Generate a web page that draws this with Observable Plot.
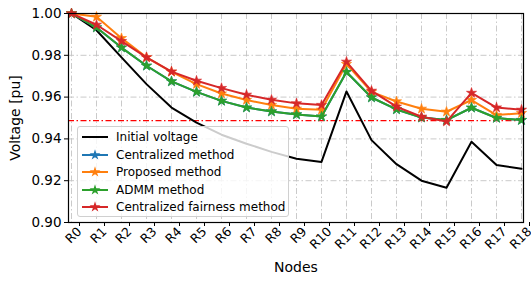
<!DOCTYPE html>
<html>
<head>
<meta charset="utf-8">
<script src="https://cdn.jsdelivr.net/npm/d3@7"></script>
<script src="https://cdn.jsdelivr.net/npm/@observablehq/plot@0.6"></script>
<style>
  html, body { margin: 0; padding: 0; background: #fff; }
  #wrap { position: relative; width: 531px; height: 281px; font-family: "DejaVu Sans", sans-serif; }
  #legend { position: absolute; left: 77px; top: 126px; width: 212px; height: 91px;
    background: rgba(255,255,255,0.8); border: 1px solid #d0d0d0; border-radius: 3px; box-sizing: border-box; }
  .row { position: absolute; left: 0; height: 18px; display: flex; align-items: center; }
  .row span { font-size: 12px; color: #000; white-space: nowrap; }
</style>
</head>
<body>
<div id="wrap"></div>
<script>
const nodes = ["R0","R1","R2","R3","R4","R5","R6","R7","R8","R9","R10","R11","R12","R13","R14","R15","R16","R17","R18"];
const initialVoltage = [1.0, 0.992, 0.979, 0.9662, 0.955, 0.9478, 0.942, 0.9377, 0.9338, 0.9305, 0.929, 0.9627, 0.9394, 0.9279, 0.92, 0.9166, 0.9386, 0.9275, 0.9257];
const centralizedMethod = [1.0, 0.9933, 0.9837, 0.975, 0.9675, 0.9625, 0.9582, 0.955, 0.9531, 0.9517, 0.9507, 0.972, 0.9598, 0.9541, 0.9502, 0.949, 0.9549, 0.95, 0.949];
const proposedMethod = [1.0, 0.9984, 0.9882, 0.979, 0.9721, 0.9662, 0.9617, 0.9586, 0.9562, 0.9544, 0.9539, 0.9758, 0.9625, 0.9579, 0.9544, 0.953, 0.9586, 0.9514, 0.9523];
const admmMethod = [1.0, 0.9933, 0.9837, 0.975, 0.9675, 0.9625, 0.9582, 0.955, 0.9531, 0.9517, 0.9507, 0.972, 0.9598, 0.9541, 0.9502, 0.949, 0.9549, 0.95, 0.949];
const fairnessMethod = [1.0, 0.9946, 0.9868, 0.979, 0.9722, 0.9678, 0.9643, 0.9611, 0.9587, 0.957, 0.9562, 0.9769, 0.963, 0.9554, 0.9506, 0.9483, 0.962, 0.955, 0.9539];
const voltageLimit = [0.9487];
const yTicks = [0.90, 0.92, 0.94, 0.96, 0.98, 1.00];

const seriesNames = ["Initial voltage", "Centralized method", "Proposed method", "ADMM method", "Centralized fairness method"];
const seriesColors = ["#000000", "#1f77b4", "#ff7f0e", "#2ca02c", "#d62728"];
const seriesValues = [initialVoltage, centralizedMethod, proposedMethod, admmMethod, fairnessMethod];
const seriesMarkers = [false, true, true, true, true];

const rows = (i) => nodes.map((n, j) => ({node: n, v: seriesValues[i][j]}));

const marks = [
  Plot.ruleX(nodes, {stroke: "#c4c4c4", strokeWidth: 0.9, strokeDasharray: "6,2.5,1.5,2.5"}),
  Plot.ruleY(yTicks, {stroke: "#c4c4c4", strokeWidth: 0.9, strokeDasharray: "6,2.5,1.5,2.5"}),
  Plot.ruleY(voltageLimit, {stroke: "#ff0000", strokeWidth: 1.3, strokeDasharray: "6,2.5,1.5,2.5"})
];
seriesValues.forEach((vals, i) => {
  marks.push(Plot.line(rows(i), {x: "node", y: "v", stroke: seriesColors[i], strokeWidth: 2}));
  if (seriesMarkers[i]) {
    marks.push(Plot.dot(rows(i), {x: "node", y: "v", symbol: "star", r: 3.2, fill: seriesColors[i], stroke: seriesColors[i], strokeWidth: 0.6}));
  }
});
marks.push(
  Plot.frame({stroke: "#000", strokeWidth: 1.2}),
  Plot.axisY(yTicks, {tickFormat: d3.format(".2f"), tickSize: 4, tickPadding: 3, fontSize: 13.5, label: null}),
  Plot.axisX(nodes, {tickSize: 4, tickRotate: -45, tickPadding: 3, fontSize: 12.5, dx: 8, label: null}),
  Plot.text(["Nodes"], {frameAnchor: "bottom", dy: 49, fontSize: 14, fill: "#000"}),
  Plot.text(["Voltage [pu]"], {frameAnchor: "left", dx: -53, rotate: -90, textAnchor: "middle", fontSize: 14, fill: "#000"})
);

const chart = Plot.plot({
  width: 531,
  height: 281,
  marginLeft: 68,
  marginRight: 8,
  marginTop: 13,
  marginBottom: 59,
  style: {fontFamily: "DejaVu Sans, sans-serif", color: "#000", background: "#fff", overflow: "visible"},
  x: {type: "point", domain: nodes, padding: 0},
  y: {domain: [0.90, 1.00]},
  marks
});

const wrap = document.getElementById("wrap");
wrap.appendChild(chart);

// legend
const legend = document.createElement("div");
legend.id = "legend";
const starPath = d3.symbol(d3.symbolStar, 36)();
seriesNames.forEach((name, i) => {
  const row = document.createElement("div");
  row.className = "row";
  row.style.top = (1 + i * 17.6) + "px";
  const svgNS = "http://www.w3.org/2000/svg";
  const svg = document.createElementNS(svgNS, "svg");
  svg.setAttribute("width", 36);
  svg.setAttribute("height", 18);
  const line = document.createElementNS(svgNS, "line");
  line.setAttribute("x1", 4); line.setAttribute("x2", 30);
  line.setAttribute("y1", 9); line.setAttribute("y2", 9);
  line.setAttribute("stroke", seriesColors[i]); line.setAttribute("stroke-width", 2);
  svg.appendChild(line);
  if (seriesMarkers[i]) {
    const p = document.createElementNS(svgNS, "path");
    p.setAttribute("d", starPath);
    p.setAttribute("transform", "translate(17,9)");
    p.setAttribute("fill", seriesColors[i]);
    svg.appendChild(p);
  }
  row.appendChild(svg);
  const t = document.createElement("span");
  t.textContent = name;
  t.style.marginLeft = "2px";
  row.appendChild(t);
  legend.appendChild(row);
});
wrap.appendChild(legend);
</script>
</body>
</html>
